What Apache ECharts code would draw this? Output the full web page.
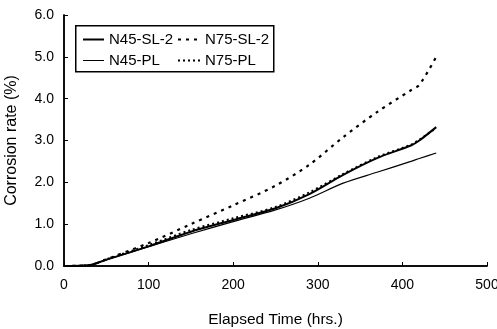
<!DOCTYPE html>
<html>
<head>
<meta charset="utf-8">
<script src="https://cdn.jsdelivr.net/npm/echarts@6/dist/echarts.min.js"></script>
<style>
  html, body { margin: 0; padding: 0; background: #fff; overflow: hidden; }
  #chart { width: 497px; height: 329px; max-width: 100vw; max-height: 100vh; }
</style>
</head>
<body>
<div id="chart"></div>
<script>
// elapsed time (hrs.)
const hours = [0, 30, 50, 100, 150, 200, 250, 290, 330, 370, 410, 420, 440];

// corrosion rate (%)
const n45SL2 = [0, 0.02, 0.15, 0.47, 0.82, 1.10, 1.38, 1.72, 2.18, 2.58, 2.88, 3.00, 3.32];
const n75SL2 = [0, 0.02, 0.16, 0.55, 1.00, 1.45, 1.92, 2.42, 3.08, 3.68, 4.20, 4.33, 5.00];
const n45PL = [0, 0.02, 0.15, 0.46, 0.77, 1.06, 1.34, 1.62, 1.98, 2.24, 2.50, 2.57, 2.70];
const n75PL = [0, 0.02, 0.16, 0.50, 0.86, 1.14, 1.41, 1.76, 2.20, 2.60, 2.90, 3.02, 3.30];

const font = 'Liberation Sans, Arial, sans-serif';

function pairs(ys) {
    return hours.map((h, i) => [h, ys[i]]);
}

function makeSeries(name, ys, width, type) {
    return {
        name: name,
        type: 'line',
        data: pairs(ys),
        smooth: 0.3,
        symbol: 'none',
        lineStyle: {color: '#000', width: width, type: type},
        itemStyle: {color: '#000'}
    };
}

// 两列图例，外框用 graphic 画
function makeLegend(left, itemWidth, data) {
    return {
        orient: 'vertical',
        left: left,
        top: 32,
        padding: 0,
        itemWidth: itemWidth,
        itemHeight: 12,
        itemGap: 6,
        itemStyle: {color: 'transparent', borderWidth: 0},
        data: data,
        textStyle: {fontFamily: font, fontSize: 15, color: '#000'}
    };
}

// 上边和右边的框线
function frameAxis(pos) {
    return {
        type: 'value',
        position: pos,
        min: 0,
        max: pos === 'top' ? 500 : 6,
        interval: pos === 'top' ? 100 : 1,
        axisLine: {show: true, lineStyle: {color: '#000', width: 1.5}},
        axisTick: {show: false},
        axisLabel: {show: false},
        splitLine: {show: false}
    };
}

const chart = echarts.init(document.getElementById('chart'));

chart.setOption({
    animation: false,
    backgroundColor: '#fff',
    textStyle: {fontFamily: font},
    grid: {
        left: 64,
        right: 10,
        top: 15,
        bottom: 63,
        outerBoundsMode: 'none',
        containLabel: false,
        show: false
    },
    legend: [
        makeLegend(82, 21, [{name: 'N45-SL-2'}, {name: 'N45-PL', lineStyle: {width: 1}}]),
        makeLegend(177, 22, [{name: 'N75-SL-2'}, {name: 'N75-PL'}])
    ],
    graphic: [{
        type: 'rect',
        left: 75,
        top: 25,
        shape: {width: 198, height: 46},
        style: {fill: 'transparent', stroke: '#000', lineWidth: 1.5},
        z: 10
    }],
    xAxis: [{
        type: 'value',
        position: 'bottom',
        min: 0,
        max: 500,
        interval: 100,
        name: 'Elapsed Time (hrs.)',
        nameLocation: 'middle',
        nameGap: 46,
        nameTextStyle: {fontFamily: font, fontSize: 15.5, color: '#000'},
        axisLine: {lineStyle: {color: '#000', width: 1.5}},
        axisTick: {inside: true, length: 4, lineStyle: {color: '#000'}},
        axisLabel: {fontFamily: font, fontSize: 14, color: '#000', margin: 12},
        splitLine: {show: false}
    }, frameAxis('top')],
    yAxis: [{
        type: 'value',
        position: 'left',
        min: 0,
        max: 6,
        interval: 1,
        name: 'Corrosion rate (%)',
        nameLocation: 'middle',
        nameGap: 44,
        nameTextStyle: {fontFamily: font, fontSize: 16, color: '#000'},
        axisLine: {show: true, lineStyle: {color: '#000', width: 1.5}},
        axisTick: {show: true, inside: true, length: 4, lineStyle: {color: '#000'}},
        axisLabel: {
            fontFamily: font,
            fontSize: 14,
            color: '#000',
            margin: 10,
            formatter: v => v.toFixed(1)
        },
        splitLine: {show: false}
    }, frameAxis('right')],
    series: [
        makeSeries('N45-SL-2', n45SL2, 2, 'solid'),
        makeSeries('N75-SL-2', n75SL2, 2.2, [3, 5]),
        makeSeries('N45-PL', n45PL, 1.2, 'solid'),
        makeSeries('N75-PL', n75PL, 2, [2, 3])
    ]
});
</script>
</body>
</html>
